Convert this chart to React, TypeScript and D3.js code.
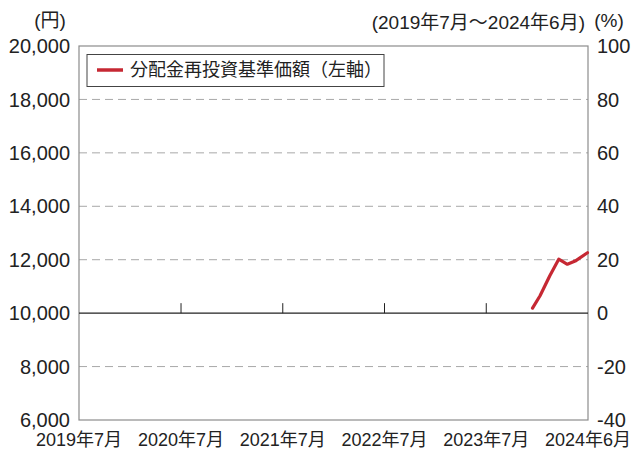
import React from "react"
import * as d3 from "d3"

// 分配金再投資基準価額 (円)
const navDates = ["2023-12-14", "2024-01-10", "2024-02-14", "2024-03-17", "2024-04-17", "2024-05-15", "2024-06-28"]
const navValues = [10190, 10650, 11400, 12020, 11830, 11950, 12260]

const leftTicks = [6000, 8000, 10000, 12000, 14000, 16000, 18000, 20000]
const rightTicks = [-40, -20, 0, 20, 40, 60, 80, 100]
const xTickDates = ["2019-07-01", "2020-07-01", "2021-07-01", "2022-07-01", "2023-07-01", "2024-06-30"]
const xTickLabels = ["2019年7月", "2020年7月", "2021年7月", "2022年7月", "2023年7月", "2024年6月"]

const W = 633
const H = 450
const left = 79
const right = 588
const top = 46
const bottom = 420
const FONT = "'Liberation Sans', 'Noto Sans CJK JP', sans-serif"
const RED = "#c62833"

export default function App() {
    const parse = d3.timeParse("%Y-%m-%d")

    const x = d3.scaleTime()
        .domain([parse("2019-07-01")!, parse("2024-06-30")!])
        .range([left, right])
    const y = d3.scaleLinear().domain([6000, 20000]).range([bottom, top])
    const yR = d3.scaleLinear().domain([-40, 100]).range([bottom, top])

    const line = d3.line<number>()
        .x((_, i) => x(parse(navDates[i])!))
        .y(v => y(v))
        .curve(d3.curveLinear)

    return (
        <div style={{ position: "absolute", left: 0, top: 0 }}>
            <svg width={W} height={H} style={{ display: "block", fontFamily: FONT }}>
                <rect width={W} height={H} fill="#fff" />

                {/* dashed grid */}
                {leftTicks.filter(t => t !== 6000 && t !== 10000 && t !== 20000).map(t => (
                    <line key={t} x1={left} x2={right} y1={y(t)} y2={y(t)}
                        stroke="#a8a8a8" strokeWidth={1} strokeDasharray="8,5" />
                ))}

                {/* frame */}
                <rect x={left} y={top} width={right - left} height={bottom - top}
                    fill="none" stroke="#8c8c8c" strokeWidth={1.2} />

                {/* 10,000 baseline with year ticks */}
                <line x1={left} x2={right} y1={y(10000)} y2={y(10000)} stroke="#222" strokeWidth={1.3} />
                {xTickDates.slice(1, 5).map(d => (
                    <line key={d} x1={x(parse(d)!)} x2={x(parse(d)!)} y1={y(10000)} y2={y(10000) - 10}
                        stroke="#222" strokeWidth={1} />
                ))}

                {/* left axis labels */}
                {leftTicks.map(t => (
                    <text key={t} x={70} y={y(t)} dy="0.36em" textAnchor="end" fontSize={20} fill="#222">
                        {d3.format(",")(t)}
                    </text>
                ))}

                {/* right axis labels */}
                {rightTicks.map(t => (
                    <text key={t} x={597} y={yR(t)} dy="0.36em" textAnchor="start" fontSize={20} fill="#222">
                        {t}
                    </text>
                ))}

                {/* x labels */}
                {xTickDates.map((d, i) => (
                    <text key={d} x={x(parse(d)!)} y={446} textAnchor="middle" fontSize={18} fill="#222">
                        {xTickLabels[i]}
                    </text>
                ))}

                {/* header texts */}
                <text x={50} y={27} textAnchor="middle" fontSize={19} fill="#222">(円)</text>
                <text x={585} y={29} textAnchor="end" fontSize={19} fill="#222">(2019年7月～2024年6月)</text>
                <text x={609} y={27} textAnchor="middle" fontSize={19} fill="#222">(%)</text>

                {/* legend */}
                <rect x={87} y={54.5} width={297} height={32} fill="#fff" stroke="#444" strokeWidth={1} />
                <line x1={97} x2={123} y1={70} y2={70} stroke={RED} strokeWidth={3.5} />
                <text x={130} y={70} dy="0.36em" fontSize={18} fill="#222">分配金再投資基準価額（左軸）</text>

                {/* series */}
                <path d={line(navValues) ?? ""} fill="none" stroke={RED} strokeWidth={3.2}
                    strokeLinejoin="round" strokeLinecap="round" />
            </svg>
        </div>
    )
}
